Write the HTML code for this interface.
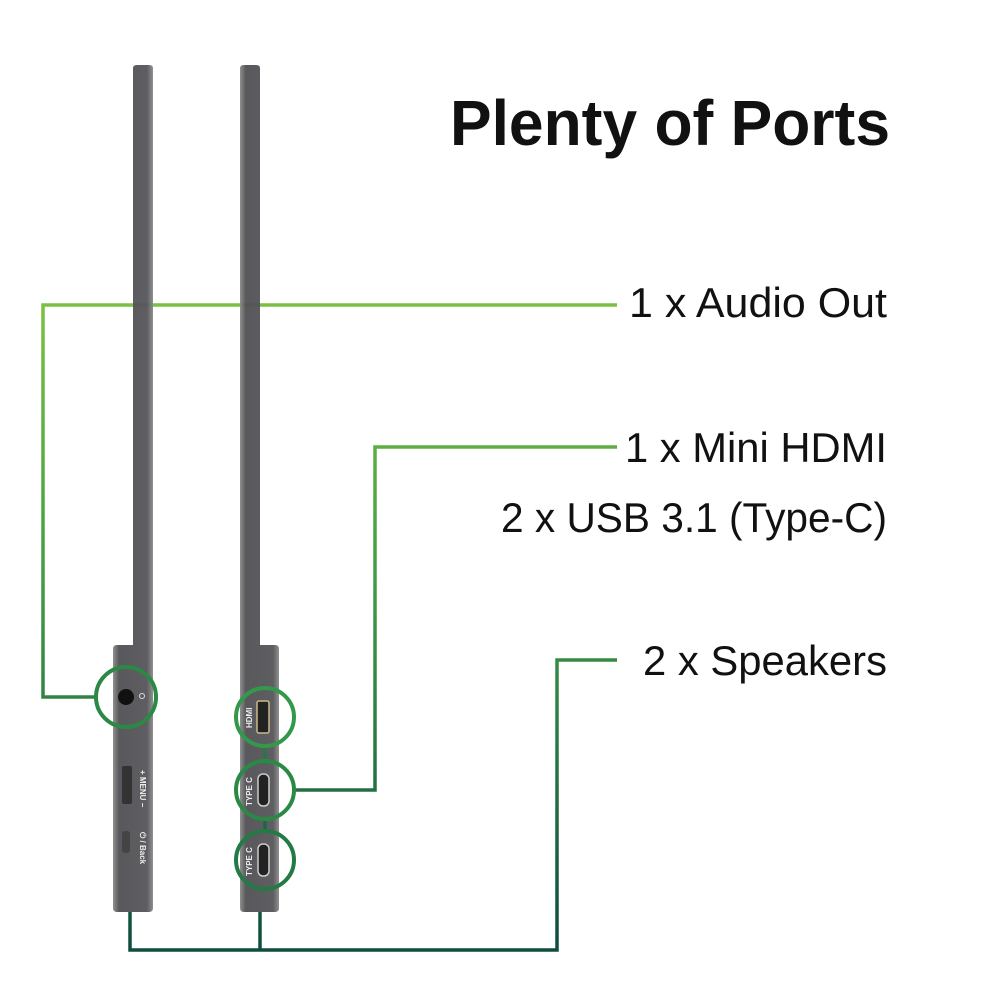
<!DOCTYPE html>
<html><head><meta charset="utf-8"><style>html,body{margin:0;padding:0;background:#fff}svg{display:block}</style></head>
<body>
<svg width="1000" height="1000" viewBox="0 0 1000 1000" xmlns="http://www.w3.org/2000/svg">
<defs>
<linearGradient id="g" x1="0" y1="290" x2="0" y2="960" gradientUnits="userSpaceOnUse">
<stop offset="0" stop-color="#7dc242"/><stop offset="0.45" stop-color="#3f9a45"/><stop offset="1" stop-color="#0d4a3e"/>
</linearGradient>
<linearGradient id="body" x1="0" x2="1">
<stop offset="0" stop-color="#8a8a8a"/><stop offset="0.15" stop-color="#505054"/><stop offset="0.85" stop-color="#56565a"/><stop offset="1" stop-color="#8a8a8a"/>
</linearGradient>
</defs>
<!-- audio line (behind panels) -->
<polyline points="617,305 43,305 43,697 96,697" fill="none" stroke="url(#g)" stroke-width="3.5"/>
<!-- panels -->
<path d="M133,68 Q133,65 137,65 L149,65 Q153,65 153,68 L153,908 Q153,912 149,912 L117,912 Q113,912 113,908 L113,649 Q113,645 117,645 L133,645 Z" fill="url(#body)" opacity="0.95"/>
<path d="M240,68 Q240,65 244,65 L256,65 Q260,65 260,68 L260,645 L275,645 Q279,645 279,649 L279,908 Q279,912 275,912 L244,912 Q240,912 240,908 Z" fill="url(#body)" opacity="0.95"/>
<!-- audio port -->
<circle cx="126" cy="697" r="8" fill="#111"/><circle cx="142" cy="696" r="2.5" fill="none" stroke="#ddd" stroke-width="1"/>
<!-- menu -->
<rect x="122" y="766" width="10" height="38" rx="2" fill="#333"/>
<rect x="122" y="831" width="8" height="22" rx="3" fill="#444"/>
<g fill="#eee" font-family="Liberation Sans, sans-serif" font-size="8" font-weight="bold">
<text transform="translate(140,770) rotate(90)">+ MENU −</text>
<text transform="translate(140,832) rotate(90)">⏻ / Back</text>
<text transform="translate(252,728) rotate(-90)">HDMI</text>
<text transform="translate(252,806) rotate(-90)">TYPE C</text>
<text transform="translate(252,876) rotate(-90)">TYPE C</text>
</g>
<rect x="257" y="701" width="12" height="32" rx="2" fill="#222" stroke="#c9b98a" stroke-width="1.5"/>
<rect x="258" y="774" width="11" height="32" rx="5" fill="#222" stroke="#ccc" stroke-width="1.5"/>
<rect x="258" y="844" width="11" height="32" rx="5" fill="#222" stroke="#ccc" stroke-width="1.5"/>
<!-- connectors -->
<g fill="none" stroke="url(#g)" stroke-width="3.5">
<polyline points="617,447 375,447 375,790 295,790"/>
<polyline points="617,660 557,660 557,950 130,950 130,912"/>
<line x1="260" y1="912" x2="260" y2="950"/>
<line x1="265" y1="746" x2="265" y2="761"/>
<line x1="265" y1="819" x2="265" y2="831"/>
</g>
<g fill="none" stroke-width="4">
<circle cx="126" cy="697" r="30" stroke="#2a8a45"/>
<circle cx="265" cy="717" r="29" stroke="#33994a"/>
<circle cx="265" cy="790" r="29" stroke="#2a8a45"/>
<circle cx="265" cy="860" r="29" stroke="#237a45"/>
</g>
<!-- text -->
<g font-family="Liberation Sans, sans-serif" fill="#111">
<text x="450" y="145" font-size="64" font-weight="bold" textLength="440" lengthAdjust="spacingAndGlyphs">Plenty of Ports</text>
<g font-size="42">
<text x="629" y="317" textLength="258" lengthAdjust="spacingAndGlyphs">1 x Audio Out</text>
<text x="625" y="462" textLength="262" lengthAdjust="spacingAndGlyphs">1 x Mini HDMI</text>
<text x="501" y="532" textLength="386" lengthAdjust="spacingAndGlyphs">2 x USB 3.1 (Type-C)</text>
<text x="643" y="675" textLength="244" lengthAdjust="spacingAndGlyphs">2 x  Speakers</text>
</g>
</g>
</svg>
</body></html>
